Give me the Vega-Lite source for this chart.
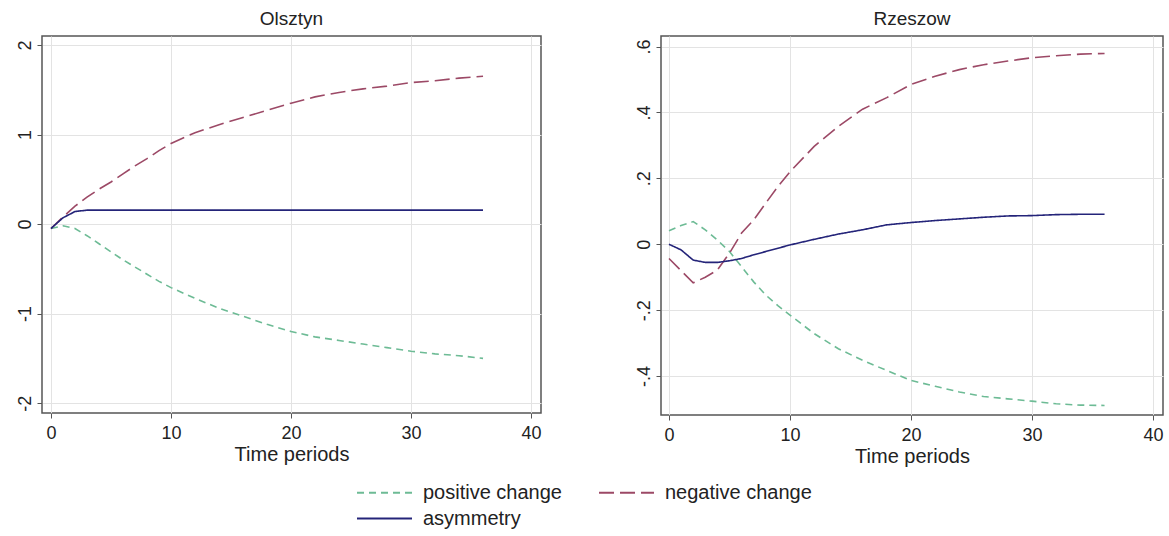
{
  "$schema": "https://vega.github.io/schema/vega-lite/v6.json",
  "background": "white",
  "padding": {"left": 15, "top": 9, "right": 5, "bottom": 0},
  "datasets": {
    "olsztyn": [
      {"t": 0, "positive change": -0.05, "negative change": -0.05, "asymmetry": -0.05},
      {"t": 1, "positive change": -0.02, "negative change": 0.08, "asymmetry": 0.07},
      {"t": 2, "positive change": -0.05, "negative change": 0.2, "asymmetry": 0.14},
      {"t": 3, "positive change": -0.13, "negative change": 0.3, "asymmetry": 0.155},
      {"t": 4, "positive change": -0.22, "negative change": 0.39, "asymmetry": 0.155},
      {"t": 5, "positive change": -0.31, "negative change": 0.47, "asymmetry": 0.155},
      {"t": 6, "positive change": -0.4, "negative change": 0.56, "asymmetry": 0.155},
      {"t": 7, "positive change": -0.48, "negative change": 0.65, "asymmetry": 0.155},
      {"t": 8, "positive change": -0.56, "negative change": 0.73, "asymmetry": 0.155},
      {"t": 9, "positive change": -0.64, "negative change": 0.82, "asymmetry": 0.155},
      {"t": 10, "positive change": -0.71, "negative change": 0.9, "asymmetry": 0.155},
      {"t": 12, "positive change": -0.83, "negative change": 1.02, "asymmetry": 0.155},
      {"t": 14, "positive change": -0.94, "negative change": 1.11, "asymmetry": 0.155},
      {"t": 16, "positive change": -1.03, "negative change": 1.19, "asymmetry": 0.155},
      {"t": 18, "positive change": -1.12, "negative change": 1.27, "asymmetry": 0.155},
      {"t": 20, "positive change": -1.2, "negative change": 1.35, "asymmetry": 0.155},
      {"t": 22, "positive change": -1.26, "negative change": 1.42, "asymmetry": 0.155},
      {"t": 24, "positive change": -1.3, "negative change": 1.47, "asymmetry": 0.155},
      {"t": 26, "positive change": -1.34, "negative change": 1.51, "asymmetry": 0.155},
      {"t": 28, "positive change": -1.38, "negative change": 1.54, "asymmetry": 0.155},
      {"t": 30, "positive change": -1.42, "negative change": 1.58, "asymmetry": 0.155},
      {"t": 32, "positive change": -1.45, "negative change": 1.6, "asymmetry": 0.155},
      {"t": 34, "positive change": -1.47, "negative change": 1.63, "asymmetry": 0.155},
      {"t": 36, "positive change": -1.5, "negative change": 1.65, "asymmetry": 0.155}
    ],
    "rzeszow": [
      {"t": 0, "positive change": 0.041, "negative change": -0.043, "asymmetry": 0},
      {"t": 1, "positive change": 0.057, "negative change": -0.08, "asymmetry": -0.017},
      {"t": 2, "positive change": 0.069, "negative change": -0.117, "asymmetry": -0.048},
      {"t": 3, "positive change": 0.044, "negative change": -0.1, "asymmetry": -0.055},
      {"t": 4, "positive change": 0.013, "negative change": -0.078, "asymmetry": -0.055},
      {"t": 5, "positive change": -0.022, "negative change": -0.027, "asymmetry": -0.05},
      {"t": 6, "positive change": -0.068, "negative change": 0.034, "asymmetry": -0.043},
      {"t": 7, "positive change": -0.114, "negative change": 0.074, "asymmetry": -0.032},
      {"t": 8, "positive change": -0.154, "negative change": 0.125, "asymmetry": -0.022},
      {"t": 9, "positive change": -0.186, "negative change": 0.175, "asymmetry": -0.012},
      {"t": 10, "positive change": -0.215, "negative change": 0.22, "asymmetry": -0.002},
      {"t": 12, "positive change": -0.271, "negative change": 0.297, "asymmetry": 0.015},
      {"t": 14, "positive change": -0.317, "negative change": 0.358, "asymmetry": 0.031},
      {"t": 16, "positive change": -0.352, "negative change": 0.41, "asymmetry": 0.044},
      {"t": 18, "positive change": -0.383, "negative change": 0.445, "asymmetry": 0.059},
      {"t": 20, "positive change": -0.413, "negative change": 0.485, "asymmetry": 0.066},
      {"t": 22, "positive change": -0.431, "negative change": 0.51, "asymmetry": 0.072},
      {"t": 24, "positive change": -0.448, "negative change": 0.53, "asymmetry": 0.077},
      {"t": 26, "positive change": -0.462, "negative change": 0.545, "asymmetry": 0.082},
      {"t": 28, "positive change": -0.469, "negative change": 0.556, "asymmetry": 0.086},
      {"t": 30, "positive change": -0.476, "negative change": 0.566, "asymmetry": 0.087},
      {"t": 32, "positive change": -0.484, "negative change": 0.572, "asymmetry": 0.09},
      {"t": 34, "positive change": -0.488, "negative change": 0.577, "asymmetry": 0.091},
      {"t": 36, "positive change": -0.489, "negative change": 0.579, "asymmetry": 0.091}
    ]
  },
  "hconcat": [
    {
      "width": 499,
      "height": 377,
      "title": {"text": "Olsztyn"},
      "data": {"name": "olsztyn"},
      "transform": [{"fold": ["positive change", "negative change", "asymmetry"], "as": ["series", "value"]}],
      "mark": {"type": "line", "strokeWidth": 1.6, "clip": true},
      "encoding": {
        "x": {"field": "t", "type": "quantitative", "title": "Time periods",
              "scale": {"domain": [-0.75, 40.83], "nice": false, "zero": false},
              "axis": {"values": [0, 10, 20, 30, 40]}},
        "y": {"field": "value", "type": "quantitative", "title": null,
              "scale": {"domain": [-2.11, 2.1], "nice": false, "zero": false},
              "axis": {"values": [-2, -1, 0, 1, 2],
                       "labelExpr": "datum.value < 0 ? '-' + format(abs(datum.value), 'd') : format(datum.value, 'd')"}},
        "color": {"field": "series", "type": "nominal",
                  "scale": {"domain": ["positive change", "negative change", "asymmetry"], "range": ["#6dbb95", "#9c4966", "#242479"]},
                  "legend": {"title": null, "orient": "none", "direction": "horizontal", "columns": 2, "legendX": 332, "legendY": 446}},
        "strokeDash": {"field": "series", "type": "nominal",
                       "scale": {"domain": ["positive change", "negative change", "asymmetry"], "range": [[7, 5], [15, 6], [1, 0]]},
                       "legend": {"title": null, "orient": "none", "direction": "horizontal", "columns": 2, "legendX": 332, "legendY": 446}}
      }
    },
    {
      "width": 502,
      "height": 379,
      "title": {"text": "Rzeszow"},
      "data": {"name": "rzeszow"},
      "transform": [{"fold": ["positive change", "negative change", "asymmetry"], "as": ["series", "value"]}],
      "mark": {"type": "line", "strokeWidth": 1.6, "clip": true},
      "encoding": {
        "x": {"field": "t", "type": "quantitative", "title": "Time periods",
              "scale": {"domain": [-0.66, 40.83], "nice": false, "zero": false},
              "axis": {"values": [0, 10, 20, 30, 40]}},
        "y": {"field": "value", "type": "quantitative", "title": null,
              "scale": {"domain": [-0.518, 0.632], "nice": false, "zero": false},
              "axis": {"values": [-0.4, -0.2, 0, 0.2, 0.4, 0.6],
                       "labelExpr": "datum.value == 0 ? '0' : (datum.value < 0 ? '-' : '') + '.' + format(abs(datum.value) * 10, 'd')"}},
        "color": {"field": "series", "type": "nominal",
                  "scale": {"domain": ["positive change", "negative change", "asymmetry"], "range": ["#6dbb95", "#9c4966", "#242479"]},
                  "legend": {"title": null, "orient": "none", "direction": "horizontal", "columns": 2, "legendX": 332, "legendY": 446}},
        "strokeDash": {"field": "series", "type": "nominal",
                       "scale": {"domain": ["positive change", "negative change", "asymmetry"], "range": [[7, 5], [15, 6], [1, 0]]},
                       "legend": {"title": null, "orient": "none", "direction": "horizontal", "columns": 2, "legendX": 332, "legendY": 446}}
      }
    }
  ],
  "spacing": 92,
  "config": {
    "font": "Liberation Sans",
    "view": {"stroke": "#555555", "strokeWidth": 1.5},
    "title": {"font": "Liberation Sans", "fontSize": 19, "fontWeight": "normal", "color": "#222222", "offset": 7},
    "axis": {
      "labelFont": "Liberation Sans", "labelFontSize": 18, "labelColor": "#222222",
      "titleFont": "Liberation Sans", "titleFontSize": 20, "titleFontWeight": "normal", "titleColor": "#222222",
      "gridColor": "#e3e3e3", "gridWidth": 1, "tickColor": "#555555", "tickSize": 5, "domain": false
    },
    "axisX": {"labelPadding": 6, "titlePadding": 2},
    "axisY": {"labelAngle": -90, "labelPadding": 3},
    "legend": {
      "symbolType": "M-3,0H3", "symbolSize": 336, "symbolStrokeWidth": 2.2,
      "labelFont": "Liberation Sans", "labelFontSize": 20, "labelColor": "#222222", "labelLimit": 300,
      "labelOffset": 28, "columnPadding": 32, "rowPadding": 5
    }
  }
}
